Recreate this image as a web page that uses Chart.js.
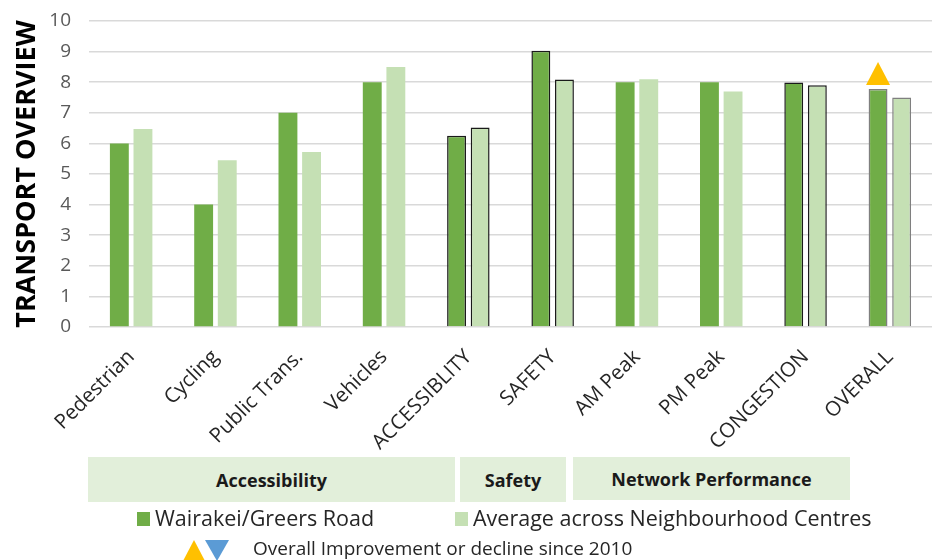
<!DOCTYPE html>
<html>
<head>
<meta charset="utf-8">
<script src="https://cdn.jsdelivr.net/npm/chart.js@4.4.1/dist/chart.umd.min.js"></script>
<style>
  html, body { margin: 0; padding: 0; background: #fff; }
  #wrap { position: relative; width: 945px; height: 560px; overflow: hidden; font-family: "Open Sans", sans-serif; }
  #chart { position: absolute; left: 0; top: 0; }
  .group { position: absolute; top: 457px; height: 45px; background: #E2EFDA; color: #1a1a1a;
           font-weight: bold; font-size: 18px; display: flex; align-items: center; justify-content: center; }
  .legend { position: absolute; color: #262626; font-size: 21.5px; white-space: nowrap; line-height: 1; }
  .swatch { position: absolute; width: 13px; height: 14px; }
  .tri { position: absolute; width: 0; height: 0; }
</style>
</head>
<body>
<div id="wrap">
  <canvas id="chart" width="945" height="560"></canvas>
  <div class="group" style="left:88px;width:367px">Accessibility</div>
  <div class="group" style="left:460px;width:106px">Safety</div>
  <div class="group" style="left:573px;width:277px;height:43px">Network Performance</div>

  <div class="swatch" style="left:137px;top:512px;background:#70AD47"></div>
  <div class="legend" style="left:155px;top:507px" id="lg1"></div>
  <div class="swatch" style="left:455px;top:512px;background:#C5E0B4"></div>
  <div class="legend" style="left:473px;top:507px" id="lg2"></div>

  <div class="tri" style="left:183px;top:540px;border-left:11.5px solid transparent;border-right:11.5px solid transparent;border-bottom:21px solid #FFC000"></div>
  <div class="tri" style="left:205px;top:540px;border-left:12px solid transparent;border-right:12px solid transparent;border-top:21px solid #5B9BD5"></div>
  <div class="legend" style="left:253px;top:539px;font-size:19px" id="lg3"></div>
</div>
<script>
// ── Data ─────────────────────────────────────────────────────
const categories = ["Pedestrian", "Cycling", "Public Trans.", "Vehicles", "ACCESSIBLITY",
                    "SAFETY", "AM Peak", "PM Peak", "CONGESTION", "OVERALL"];
const wairakeiValues = [6.0, 4.0, 7.0, 8.0, 6.25, 9.03, 8.0, 8.0, 7.99, 7.78];
const averageValues  = [6.47, 5.45, 5.72, 8.5, 6.52, 8.09, 8.1, 7.7, 7.9, 7.5];
const yTickValues = [0, 1, 2, 3, 4, 5, 6, 7, 8, 9, 10];
const seriesNames = ["Wairakei/Greers Road", "Average across Neighbourhood Centres"];
const summaryCategories = ["ACCESSIBLITY", "SAFETY", "CONGESTION", "OVERALL"];
const trendCategory = "OVERALL";
const overallTrend = "up";
const trendNote = "Overall Improvement or decline since 2010";

document.getElementById("lg1").textContent = seriesNames[0];
document.getElementById("lg2").textContent = seriesNames[1];
document.getElementById("lg3").textContent = trendNote;

// summary bars get an outline, the overall one a grey outline
const borderW = categories.map(c => summaryCategories.includes(c) ? 1.5 : 0);
const borderC = categories.map(c => c === "OVERALL" ? "#7f7f7f" : "#1a1a1a");

/* ── Trend triangle over the overall bar ───────────────────*/
const trendPlugin = {
  id: "trend",
  afterDatasetsDraw(chart) {
    const i = categories.indexOf(trendCategory);
    const bar = chart.getDatasetMeta(0).data[i];
    if (!bar) return;
    const ctx = chart.ctx;
    const x = bar.x, base = bar.y - 4;
    ctx.save();
    ctx.fillStyle = overallTrend === "up" ? "#FFC000" : "#5B9BD5";
    ctx.beginPath();
    if (overallTrend === "up") {
      ctx.moveTo(x - 12, base); ctx.lineTo(x + 12, base); ctx.lineTo(x, base - 23);
    } else {
      ctx.moveTo(x - 12, base - 23); ctx.lineTo(x + 12, base - 23); ctx.lineTo(x, base);
    }
    ctx.closePath();
    ctx.fill();
    ctx.restore();
  }
};

new Chart(document.getElementById("chart"), {
  type: "bar",
  data: {
    labels: categories,
    datasets: [
      { label: seriesNames[0], data: wairakeiValues, backgroundColor: "#70AD47",
        borderColor: borderC, borderWidth: borderW, categoryPercentage: 0.56, barPercentage: 0.8 },
      { label: seriesNames[1], data: averageValues, backgroundColor: "#C5E0B4",
        borderColor: borderC, borderWidth: borderW, categoryPercentage: 0.56, barPercentage: 0.8 }
    ]
  },
  options: {
    responsive: false, animation: false,
    layout: { padding: { top: 21, right: 13, bottom: 0, left: 0 } },
    scales: {
      x: {
        grid: { display: false }, border: { display: false },
        ticks: { color: "#262626", font: { size: 20.5, family: "'Open Sans'" },
                 maxRotation: 45, minRotation: 45, padding: 10, autoSkip: false },
        afterFit(s) { s.height = 233; }
      },
      y: {
        min: 0, max: 10,
        afterBuildTicks(s) { s.ticks = yTickValues.map(v => ({ value: v })); },
        // invisible tick marks push the labels left without adding top padding
        grid: { color: "#D9D9D9", lineWidth: 1.6, drawTicks: true, tickLength: 18, tickColor: "rgba(0,0,0,0)" },
        border: { display: false },
        ticks: { color: "#595959", font: { size: 19, family: "'Open Sans'" }, padding: 0 },
        title: { display: true, text: "TRANSPORT OVERVIEW", color: "#000",
                 font: { size: 27, weight: "bold", family: "'Open Sans'" }, padding: { top: 11, bottom: 0 } },
        afterFit(s) { s.width = 89; }
      }
    },
    plugins: { legend: { display: false }, tooltip: { enabled: false } }
  },
  plugins: [trendPlugin]
});
</script>
</body>
</html>
